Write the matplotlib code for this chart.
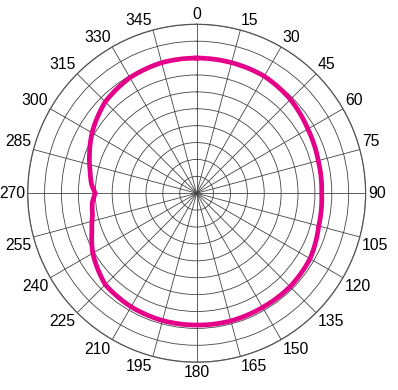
import numpy as np
import matplotlib
matplotlib.use("Agg")
import matplotlib.pyplot as plt

# pattern (degrees, radius in ring units 0-10)
angles_deg = [0, 15, 30, 45, 60, 75, 90, 105, 120, 135, 150, 165, 180,
              195, 210, 225, 240, 250, 258, 265, 270, 275, 282, 290,
              300, 315, 330, 345, 360]
radius = [8.0, 8.0, 8.0, 7.85, 7.6, 7.45, 7.4, 7.48, 7.75, 7.82, 7.8, 7.82, 7.8,
          7.8, 7.76, 7.65, 7.1, 6.6, 6.3, 6.2, 6.0, 6.25, 6.45, 6.75,
          7.15, 7.65, 7.9, 8.0, 8.0]

tick_angles = list(range(0, 360, 15))
tick_labels = [str(a) for a in tick_angles]
rings = list(range(1, 11))

plt.rcParams["font.family"] = ["Liberation Sans", "DejaVu Sans"]

fig = plt.figure(figsize=(3.98, 3.90), dpi=100)
ax = fig.add_axes([0.0696, 0.071, 0.849, 0.867], projection="polar")
ax.set_theta_zero_location("N")
ax.set_theta_direction(-1)

line, = ax.plot(np.radians(angles_deg), radius, color="#e5008a", lw=3.4,
                solid_joinstyle="round", zorder=3)
# let the polar transform bend each segment instead of drawing chords
line.get_path()._interpolation_steps = 40

ax.set_ylim(0, 10)
ax.set_yticks(rings)
ax.set_yticklabels([])
ax.set_xticks(np.radians(tick_angles))
ax.set_xticklabels(tick_labels, fontsize=11.3)
ax.tick_params(axis="x", pad=-5.3, size=0)

# align each label by its outer edge, like the reference
for a, lab in zip(tick_angles, ax.get_xticklabels()):
    s, c = np.sin(np.radians(a)), np.cos(np.radians(a))
    lab.set_ha("left" if s > 0.1 else ("right" if s < -0.1 else "center"))
    lab.set_va("bottom" if c > 0.1 else ("top" if c < -0.1 else "center"))

ax.grid(True, color="#444444", lw=0.6)
ax.spines["polar"].set_color("#555555")
ax.spines["polar"].set_linewidth(0.9)

fig.savefig("out.png", dpi=100)
